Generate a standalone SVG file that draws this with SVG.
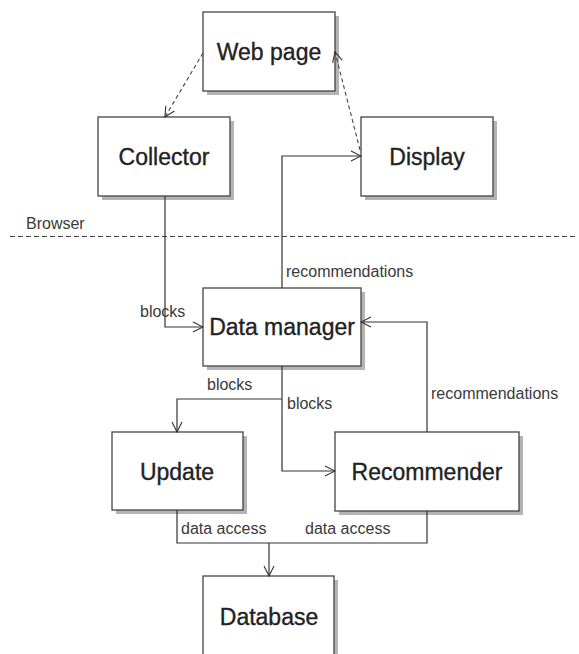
<svg xmlns="http://www.w3.org/2000/svg" width="579" height="654" viewBox="0 0 579 654">
  <style>
    .box { fill: #ffffff; stroke: #444444; stroke-width: 1.3; }
    .shadow { fill: #b4b4b4; }
    .name { font-family: "Liberation Sans", Arial, sans-serif; font-size: 23px; fill: #222222; stroke: #222222; stroke-width: 0.35; text-anchor: middle; }
    .lbl { font-family: "Liberation Sans", Arial, sans-serif; font-size: 16px; fill: #3a3a3a; }
    .wire { fill: none; stroke: #333333; stroke-width: 1.2; }
    .dash { fill: none; stroke: #444444; stroke-width: 1.1; stroke-dasharray: 4 3; }
  </style>
  <defs>
    <marker id="open" viewBox="0 0 12 12" refX="11" refY="6" markerWidth="12" markerHeight="12" markerUnits="userSpaceOnUse" orient="auto">
      <path d="M1,1 L11,6 L1,11" fill="none" stroke="#333333" stroke-width="1.1"/>
    </marker>
  </defs>
  <rect width="579" height="654" fill="#ffffff"/>

  <!-- browser boundary -->
  <g id="browser-boundary">
    <line x1="10" y1="236.5" x2="576" y2="236.5" stroke="#444444" stroke-width="1.1" stroke-dasharray="5 3"/>
    <text class="lbl" x="26" y="229">Browser</text>
  </g>

  <g id="web-page">
    <rect class="shadow" x="207" y="16" width="132" height="79"/>
    <rect class="box" x="203" y="12" width="132" height="79"/>
    <text class="name" x="269" y="60">Web page</text>
  </g>
  <g id="collector">
    <rect class="shadow" x="102" y="121" width="132" height="79"/>
    <rect class="box" x="98" y="117" width="132" height="79"/>
    <text class="name" x="164" y="165">Collector</text>
  </g>
  <g id="display">
    <rect class="shadow" x="365" y="121" width="132" height="79"/>
    <rect class="box" x="361" y="117" width="132" height="79"/>
    <text class="name" x="427" y="165">Display</text>
  </g>
  <g id="data-manager">
    <rect class="shadow" x="207" y="292" width="158" height="78"/>
    <rect class="box" x="203" y="288" width="158" height="78"/>
    <text class="name" x="282" y="335">Data manager</text>
  </g>
  <g id="update">
    <rect class="shadow" x="116" y="436" width="131" height="78"/>
    <rect class="box" x="112" y="432" width="131" height="78"/>
    <text class="name" x="177" y="480">Update</text>
  </g>
  <g id="recommender">
    <rect class="shadow" x="339" y="436" width="184" height="79"/>
    <rect class="box" x="335" y="432" width="184" height="79"/>
    <text class="name" x="427" y="480">Recommender</text>
  </g>
  <g id="database">
    <rect class="shadow" x="207" y="580" width="131" height="90"/>
    <rect class="box" x="203" y="576" width="131" height="90"/>
    <text class="name" x="269" y="625">Database</text>
  </g>

  <!-- connectors, drawn over the box shadows -->
  <g id="connectors">
    <path class="dash" d="M203,53 L165,117" marker-end="url(#open)"/>
    <path class="dash" d="M360,150 L335,52" marker-end="url(#open)"/>
    <path class="wire" d="M165,196 V327 H203" marker-end="url(#open)"/>
    <path class="wire" d="M282,288 V156 H361" marker-end="url(#open)"/>
    <path class="wire" d="M427,432 V322 H361" marker-end="url(#open)"/>
    <path class="wire" d="M282,366 V471 H335" marker-end="url(#open)"/>
    <path class="wire" d="M282,399 H177 V432" marker-end="url(#open)"/>
    <path class="wire" d="M177,510 V543 H427 V511"/>
    <path class="wire" d="M269,543 V576" marker-end="url(#open)"/>
    <text class="lbl" x="140" y="317">blocks</text>
    <text class="lbl" x="286" y="277">recommendations</text>
    <text class="lbl" x="431" y="399">recommendations</text>
    <text class="lbl" x="207" y="390">blocks</text>
    <text class="lbl" x="287" y="409">blocks</text>
    <text class="lbl" x="181" y="534">data access</text>
    <text class="lbl" x="305" y="534">data access</text>
  </g>
</svg>
